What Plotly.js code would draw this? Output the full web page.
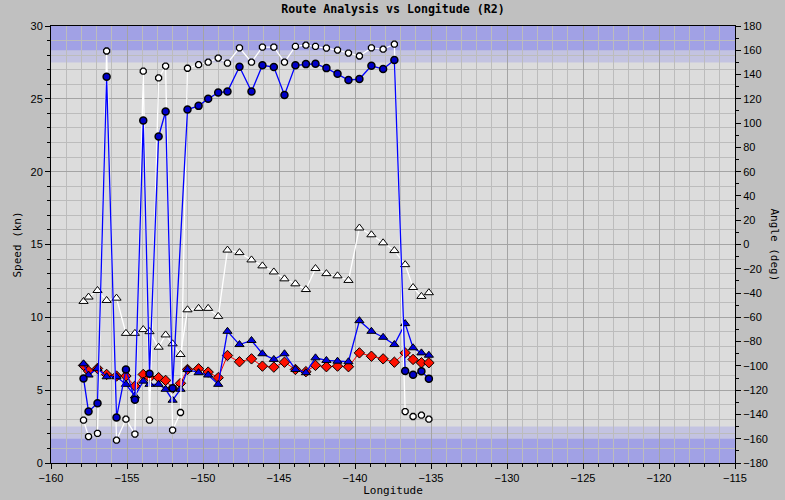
<!DOCTYPE html>
<html>
<head>
<meta charset="utf-8">
<script src="https://cdn.plot.ly/plotly-3.0.1.min.js"></script>
<style>html,body{margin:0;padding:0;background:#c0c0c0;}#chart{width:785px;height:500px;}</style>
</head>
<body>
<div id="chart"></div>
<script>
// Longitude positions of the samples
const longitude = [-157.86,-157.53,-156.94,-156.34,-155.69,-155.07,-154.48,-153.93,-153.52,-152.92,-152.46,-152.00,-151.48,-151.02,-150.29,-149.66,-149.00,-148.39,-147.60,-146.81,-146.09,-145.34,-144.64,-143.92,-143.23,-142.60,-141.88,-141.15,-140.43,-139.71,-138.92,-138.15,-137.41,-136.70,-136.18,-135.63,-135.14];

// Angle series (right axis, deg)
const headingWhite = [-144.7,-158.2,-155.6,159.4,-161.2,-143.9,-156.2,142.8,-144.7,137.2,147.0,-152.9,-138.4,145.2,148.1,150.2,153.6,149.4,162.0,150.2,162.6,162.6,150.2,163.2,164.2,163.2,161.8,160.2,157.7,155.3,162.0,160.9,165.0,-137.6,-141.7,-140.6,-143.9];
const courseBlue = [-110.3,-137.6,-130.8,138.2,-142.6,-103.0,-127.8,102.1,-106.4,89.0,109.6,-118.4,null,111.2,114.2,120.0,125.2,126.0,146.4,126.0,147.6,146.2,123.2,147.6,148.6,148.9,145.3,140.6,135.5,136.3,147.2,144.5,151.9,-104.3,-107.3,-104.5,-110.5];
const angleWhiteTri = [-46.9,-43.3,-37.9,-46.1,-44.2,-73.2,-73.2,-70.1,-71.8,-84.6,-74.5,-81.8,-90.6,-53.8,-52.6,-52.6,-59.2,-4.6,-6.7,-12.7,-17.6,-22.6,-28.3,-32.4,-37.1,-19.8,-24.0,-25.8,-29.6,13.6,8.0,1.4,-5.0,-16.6,-35.4,-42.8,-39.7];

// Speed series (left axis, kn)
const speedBlueTri = [6.81,6.04,6.49,5.92,5.92,5.40,4.60,5.62,5.40,5.40,5.06,4.31,5.06,6.42,6.20,6.04,5.40,9.04,8.13,8.41,7.50,7.11,7.50,6.42,6.20,7.22,7.04,6.99,6.95,9.77,9.04,8.63,8.13,9.57,7.91,7.56,7.40];
const speedRed = [6.70,6.31,6.49,6.08,5.97,5.97,5.28,6.08,5.86,5.86,5.67,5.13,5.47,6.42,6.47,6.24,5.86,7.38,6.95,7.15,6.65,6.58,6.92,6.42,6.27,6.70,6.61,6.65,6.61,7.56,7.33,7.15,6.92,7.56,7.11,6.88,6.88];

const titleText = 'Route Analysis vs Longitude (R2)';
const xTitle = 'Longitude';
const yTitle = 'Speed (kn)';
const y2Title = 'Angle (deg)';

const mono = '"DejaVu Sans Mono", monospace';
const tickFont = {family: '"Liberation Sans", Arial, sans-serif', size: 11, color: '#000'};
const outline = {color: '#000', width: 1.3};

const traces = [
  {x: longitude, y: headingWhite, yaxis: 'y2', mode: 'lines+markers', name: 'Heading',
   line: {color: '#ffffff', width: 1.3},
   marker: {symbol: 'octagon', size: 6.5, color: '#ffffff', line: outline}},
  {x: longitude, y: angleWhiteTri, yaxis: 'y2', mode: 'lines+markers', name: 'Wind angle',
   line: {color: '#ffffff', width: 1.3},
   marker: {symbol: 'triangle-up', size: 8, color: '#ffffff', line: {color: '#000', width: 1}}},
  {x: longitude, y: speedRed, yaxis: 'y', mode: 'lines+markers', name: 'Speed',
   line: {color: '#ff0000', width: 1},
   marker: {symbol: 'diamond', size: 8, color: '#ff1000', line: {color: '#000', width: 1}}},
  {x: longitude, y: courseBlue, yaxis: 'y2', mode: 'lines+markers', name: 'Course', connectgaps: true,
   line: {color: '#0000ff', width: 1.3},
   marker: {symbol: 'circle', size: 7, color: '#0000c8', line: {color: '#000', width: 1.5}}},
  {x: longitude, y: speedBlueTri, yaxis: 'y', mode: 'lines+markers', name: 'Wind speed',
   line: {color: '#0000ff', width: 1.3},
   marker: {symbol: 'triangle-up', size: 8, color: '#0000e0', line: {color: '#000', width: 1}}}
];

function band(y0, y1, color) {
  return {type: 'rect', xref: 'paper', yref: 'y2', x0: 0, x1: 1, y0: y0, y1: y1,
          fillcolor: color, line: {width: 0}, layer: 'between'};
}

const layout = {
  width: 785, height: 500,
  paper_bgcolor: '#c0c0c0', plot_bgcolor: '#dcdcdc',
  showlegend: false,
  margin: {l: 51, r: 50, t: 26, b: 37},
  title: {text: '<b>' + titleText + '</b>', font: {family: mono, size: 11.6, color: '#000'},
          x: 0.5, xref: 'paper', y: 0.982, yanchor: 'middle'},
  xaxis: {range: [-160, -115], dtick: 5, tick0: -160, ticks: 'outside', ticklen: 5, tickcolor: '#000',
          showline: true, linecolor: '#000', linewidth: 1, mirror: true,
          showgrid: true, gridcolor: '#a4a4a4', gridwidth: 1, zeroline: false,
          tickfont: tickFont,
          minor: {dtick: 1, ticks: 'outside', ticklen: 3, tickcolor: '#000', showgrid: true, gridcolor: '#bcbcbc', gridwidth: 1},
          title: {text: xTitle, font: {family: mono, size: 11, color: '#000'}, standoff: 2}},
  yaxis: {range: [0, 30], dtick: 5, ticks: 'outside', ticklen: 5, tickcolor: '#000',
          showline: true, linecolor: '#000', linewidth: 1,
          showgrid: true, gridcolor: '#a4a4a4', gridwidth: 1, zeroline: false,
          tickfont: tickFont,
          minor: {dtick: 1, ticks: 'outside', ticklen: 3, tickcolor: '#000', showgrid: true, gridcolor: '#bcbcbc', gridwidth: 1},
          title: {text: yTitle, font: {family: mono, size: 11, color: '#000'}, standoff: 6}},
  yaxis2: {range: [-180, 180], dtick: 20, overlaying: 'y', side: 'right', ticks: 'outside', ticklen: 5, tickcolor: '#000',
           showline: true, linecolor: '#000', linewidth: 1, showgrid: false, zeroline: false,
           tickfont: tickFont,
           minor: {dtick: 10, ticks: 'outside', ticklen: 3, tickcolor: '#000', showgrid: false}},
  shapes: [
    band(150, 180, 'rgba(140,140,240,0.30)'),
    band(160, 180, 'rgba(90,90,240,0.32)'),
    band(-180, -150, 'rgba(140,140,240,0.30)'),
    band(-180, -160, 'rgba(90,90,240,0.32)')
  ],
  annotations: [
    {text: y2Title, xref: 'paper', yref: 'paper', x: 1, xshift: 39, y: 0.5, textangle: 90,
     showarrow: false, font: {family: mono, size: 11, color: '#000'}, xanchor: 'center', yanchor: 'middle'}
  ]
};

Plotly.newPlot('chart', traces, layout, {staticPlot: true, displayModeBar: false});
</script>
</body>
</html>
